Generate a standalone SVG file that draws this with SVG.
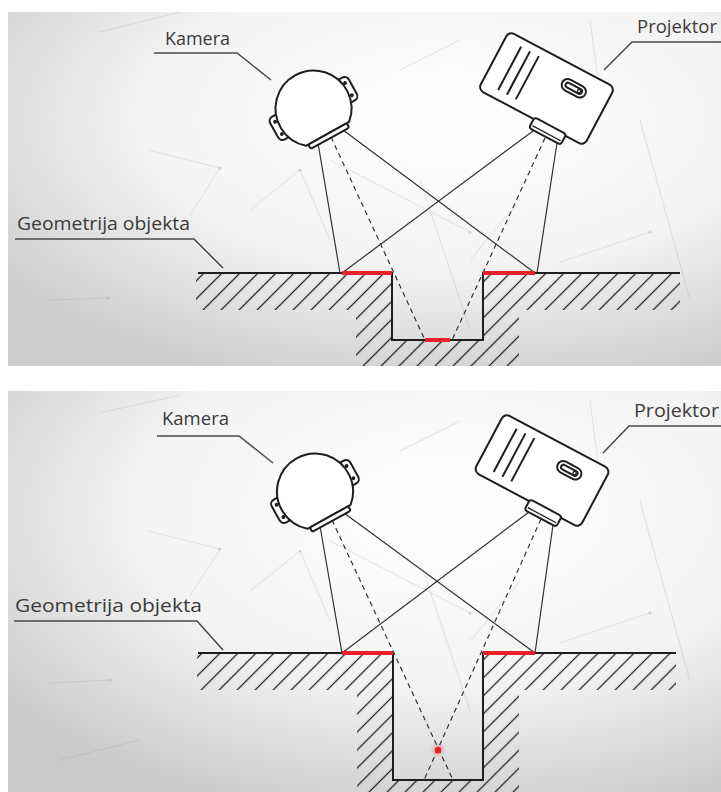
<svg xmlns="http://www.w3.org/2000/svg" width="721" height="792" viewBox="0 0 721 792">
  <style>
    .label { font-family: "Open Sans", "Liberation Sans", sans-serif; font-size: 19px; fill: #3a3a3a; }
    .leader { fill: none; stroke: #4a4a4a; stroke-width: 1.5; }
    .outline { fill: #ffffff; stroke: #1e1e1e; stroke-width: 2; stroke-linejoin: round; }
    .ground { fill: none; stroke: #1e1e1e; stroke-width: 2; }
    .ray { fill: none; stroke: #333333; stroke-width: 1.2; }
    .ray.dash { stroke-dasharray: 5 4; }
    .hit { fill: none; stroke: #e8202a; stroke-width: 4; }
    .glow { fill: none; stroke: #ff3a3a; stroke-width: 9; opacity: 0.35; filter: url(#soft); }
    .net { fill: none; stroke: #9a9a9a; stroke-width: 0.8; opacity: 0.3; }
    .netdot { fill: #9a9a9a; opacity: 0.35; }
  </style>
  <defs>
    <radialGradient id="bgTop" cx="0.62" cy="0.3" r="0.78">
      <stop offset="0" stop-color="#ffffff"/>
      <stop offset="0.55" stop-color="#f3f3f3"/>
      <stop offset="1" stop-color="#cdcdcd"/>
    </radialGradient>
    <radialGradient id="bgBottom" cx="0.62" cy="0.3" r="0.8">
      <stop offset="0" stop-color="#ffffff"/>
      <stop offset="0.55" stop-color="#f3f3f3"/>
      <stop offset="1" stop-color="#c9c9c9"/>
    </radialGradient>
    <filter id="soft" x="-20%" y="-200%" width="140%" height="500%">
      <feGaussianBlur stdDeviation="2"/>
    </filter>
    <pattern id="hatch" patternUnits="userSpaceOnUse" width="12.73" height="20" patternTransform="rotate(45)">
      <line x1="6.36" y1="0" x2="6.36" y2="20" stroke="#262626" stroke-width="1.3"/>
    </pattern>
    <clipPath id="hatchTop">
      <rect x="196" y="274" width="196" height="36"/>
      <rect x="483" y="274" width="197" height="36"/>
      <rect x="356" y="274" width="36" height="92"/>
      <rect x="483" y="274" width="36" height="92"/>
      <rect x="356" y="340" width="163" height="26"/>
    </clipPath>
    <clipPath id="hatchBottom">
      <rect x="197" y="654" width="196" height="36"/>
      <rect x="483" y="654" width="193" height="36"/>
      <rect x="357" y="654" width="36" height="138"/>
      <rect x="483" y="654" width="36" height="138"/>
      <rect x="357" y="780" width="162" height="12"/>
    </clipPath>
    <!-- camera: round housing, flat lens plate facing +y, two mounting ears -->
    <g id="camera">
      <rect class="outline" x="30" y="-13" width="15" height="26" rx="5"/>
      <rect class="outline" x="-45" y="-13" width="15" height="26" rx="5"/>
      <circle cx="40" cy="-7" r="1.9" fill="#1e1e1e"/>
      <circle cx="40" cy="7" r="1.9" fill="#1e1e1e"/>
      <circle cx="-40" cy="-7" r="1.9" fill="#1e1e1e"/>
      <circle cx="-40" cy="7" r="1.9" fill="#1e1e1e"/>
      <path class="outline" d="M -24.6 29 A 38 38 0 1 1 24.6 29 Z"/>
      <rect class="outline" x="-22" y="29" width="44" height="5" rx="2" stroke-width="1.8"/>
    </g>
    <!-- projector: rounded box with vents, slot and lens block -->
    <g id="projector">
      <rect class="outline" x="-60" y="-33" width="120" height="66" rx="6"/>
      <line x1="-42" y1="-25" x2="-42" y2="24" stroke="#1e1e1e" stroke-width="2"/>
      <line x1="-32" y1="-25" x2="-32" y2="24" stroke="#1e1e1e" stroke-width="2"/>
      <line x1="-22" y1="-25" x2="-22" y2="24" stroke="#1e1e1e" stroke-width="2"/>
      <rect class="outline" x="11" y="-19" width="26" height="12" rx="6" stroke-width="1.8"/>
      <rect class="outline" x="15" y="-15.5" width="18" height="5" rx="2.5" stroke-width="1.5"/>
      <circle cx="30" cy="-13" r="1.6" fill="none" stroke="#1e1e1e" stroke-width="1.2"/>
      <rect class="outline" x="3" y="31" width="36" height="12" rx="3" stroke-width="1.8"/>
      <line x1="5" y1="39.5" x2="37" y2="39.5" stroke="#1e1e1e" stroke-width="1.4"/>
    </g>
  </defs>

  <rect width="721" height="792" fill="#ffffff"/>

  <!-- ===== upper scene ===== -->
  <g id="panel-top">
    <rect x="8" y="12" width="713" height="354" fill="url(#bgTop)"/>
    <g id="backdrop-top">
      <path class="net" d="M50 300 L108 298 M148 150 L220 168 L190 215 M330 160 L470 232 M420 180 L470 330 M560 262 L650 232 M590 20 L602 110 M100 32 L180 12 M640 120 L690 300 M250 210 L300 170 L330 240 M400 70 L460 40 M470 260 L520 200"/>
      <circle class="netdot" cx="108" cy="298" r="1.5"/>
      <circle class="netdot" cx="220" cy="168" r="1.5"/>
      <circle class="netdot" cx="470" cy="232" r="1.5"/>
      <circle class="netdot" cx="650" cy="232" r="1.5"/>
      <circle class="netdot" cx="300" cy="170" r="1.5"/>
    </g>

    <g id="object-top">
      <rect x="190" y="270" width="500" height="100" fill="url(#hatch)" clip-path="url(#hatchTop)"/>
      <path class="ground" d="M198 273 H392 V340 H483 V273 H680"/>
    </g>

    <g id="rays-top">
      <line class="ray" x1="318" y1="143" x2="340" y2="273"/>
      <line class="ray" x1="343" y1="130" x2="535" y2="273"/>
      <line class="ray dash" x1="331" y1="137" x2="425" y2="340"/>
      <line class="ray" x1="533" y1="131" x2="342" y2="273"/>
      <line class="ray" x1="557" y1="143" x2="537" y2="273"/>
      <line class="ray dash" x1="545" y1="138" x2="452" y2="340"/>
    </g>

    <g id="hits-top">
      <line class="glow" x1="342" y1="273" x2="392" y2="273"/>
      <line class="glow" x1="483" y1="273" x2="535" y2="273"/>
      <line class="glow" x1="425" y1="340" x2="450" y2="340"/>
      <line class="hit" x1="342" y1="273" x2="392" y2="273"/>
      <line class="hit" x1="483" y1="273" x2="535" y2="273"/>
      <line class="hit" x1="425" y1="340" x2="450" y2="340"/>
    </g>

    <g id="camera-top">
      <use href="#camera" transform="translate(313.5 108.5) rotate(-29)"/>
      <text class="label" x="165" y="45" textLength="65" lengthAdjust="spacingAndGlyphs">Kamera</text>
      <path class="leader" d="M154 53 H237 L271 80"/>
    </g>

    <g id="projector-top">
      <use href="#projector" transform="translate(546.5 88.5) rotate(28)"/>
      <text class="label" x="637" y="33" textLength="80" lengthAdjust="spacingAndGlyphs">Projektor</text>
      <path class="leader" d="M721 42 H632 L604 70"/>
    </g>

    <g id="geometry-label-top">
      <text class="label" x="17" y="230" textLength="173" lengthAdjust="spacingAndGlyphs">Geometrija objekta</text>
      <path class="leader" d="M15 239 H194 L223 268"/>
    </g>
  </g>

  <!-- ===== lower scene ===== -->
  <g id="panel-bottom">
    <rect x="8" y="391" width="713" height="401" fill="url(#bgBottom)"/>
    <g id="backdrop-bottom">
      <path class="net" d="M50 683 L110 680 M148 531 L220 549 L190 596 M330 541 L470 613 M420 561 L470 711 M560 643 L650 613 M590 401 L602 491 M100 413 L180 395 M640 501 L690 681 M250 591 L300 551 L330 621 M400 451 L460 421 M470 641 L520 581 M60 760 L140 740"/>
      <circle class="netdot" cx="110" cy="680" r="1.5"/>
      <circle class="netdot" cx="220" cy="549" r="1.5"/>
      <circle class="netdot" cx="470" cy="613" r="1.5"/>
      <circle class="netdot" cx="650" cy="613" r="1.5"/>
      <circle class="netdot" cx="300" cy="551" r="1.5"/>
    </g>

    <g id="object-bottom">
      <rect x="190" y="650" width="500" height="142" fill="url(#hatch)" clip-path="url(#hatchBottom)"/>
      <path class="ground" d="M198 653 H393 V780 H483 V653 H676"/>
    </g>

    <g id="rays-bottom">
      <line class="ray" x1="320" y1="526" x2="342" y2="653"/>
      <line class="ray" x1="344" y1="513" x2="535" y2="653"/>
      <line class="ray dash" x1="332" y1="520" x2="453" y2="780"/>
      <line class="ray" x1="529" y1="512" x2="342" y2="653"/>
      <line class="ray" x1="553" y1="525" x2="535" y2="653"/>
      <line class="ray dash" x1="541" y1="519" x2="424" y2="780"/>
    </g>

    <g id="hits-bottom">
      <line class="glow" x1="342" y1="653" x2="393" y2="653"/>
      <line class="glow" x1="483" y1="653" x2="535" y2="653"/>
      <circle cx="438" cy="750" r="5" fill="#ff3a3a" opacity="0.4" filter="url(#soft)"/>
      <line class="hit" x1="342" y1="653" x2="393" y2="653"/>
      <line class="hit" x1="483" y1="653" x2="535" y2="653"/>
      <circle cx="438" cy="750" r="3.2" fill="#e8202a"/>
    </g>

    <g id="camera-bottom">
      <use href="#camera" transform="translate(315 491.5) rotate(-29)"/>
      <text class="label" x="162" y="425" textLength="67" lengthAdjust="spacingAndGlyphs">Kamera</text>
      <path class="leader" d="M157 436 H239 L273 463"/>
    </g>

    <g id="projector-bottom">
      <use href="#projector" transform="translate(542 470.5) rotate(28)"/>
      <text class="label" x="634" y="417" textLength="85" lengthAdjust="spacingAndGlyphs">Projektor</text>
      <path class="leader" d="M721 426 H629 L603 453"/>
    </g>

    <g id="geometry-label-bottom">
      <text class="label" x="15" y="612" textLength="187" lengthAdjust="spacingAndGlyphs">Geometrija objekta</text>
      <path class="leader" d="M14 621 H197 L223 650"/>
    </g>
  </g>
</svg>
